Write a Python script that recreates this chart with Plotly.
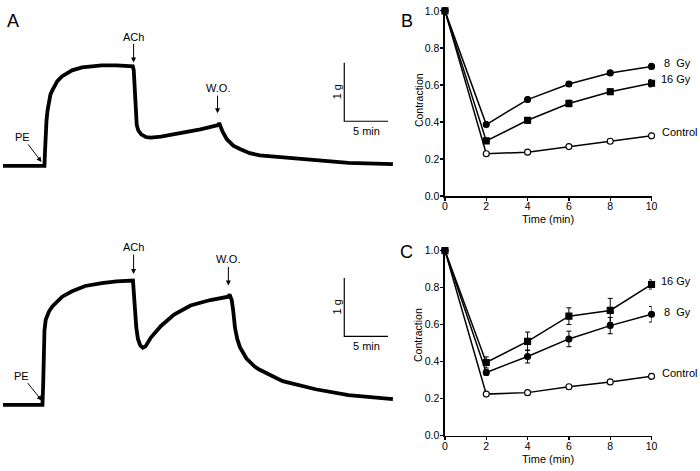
import plotly.graph_objects as go

W, H = 700, 471

# ---------------- Panel A: tension recordings (time in min, tension in g above baseline)
top_t = [0, 4.74, 4.80, 4.85, 4.97, 5.08, 5.25, 5.42, 5.64, 6.21, 6.77, 7.34, 7.90, 9.03, 10.16,
         11.29, 12.98, 14.84,
         14.95, 15.07, 15.18, 15.29, 15.46, 15.80, 16.37, 16.93, 18.06, 20.32, 22.57, 24.60,
         24.72, 24.89, 25.11, 25.59, 26.33, 27.09, 28.22, 29.35, 31.94, 35.74, 39.50, 44.58]
top_g = [0, 0, 0.233, 0.483, 0.767, 0.933, 1.117, 1.217, 1.292, 1.45, 1.533, 1.592, 1.633, 1.683, 1.705,
         1.717, 1.717, 1.70,
         1.633, 1.233, 0.867, 0.70, 0.608, 0.538, 0.492, 0.483, 0.50, 0.558, 0.625, 0.695,
         0.733, 0.667, 0.583, 0.455, 0.345, 0.288, 0.217, 0.178, 0.142, 0.088, 0.05, 0.028]

bot_t = [0, 4.51, 4.59, 4.66, 4.74, 4.89, 5.27, 5.64, 6.21, 6.77, 7.90, 9.40, 11.29, 12.98, 14.86,
         15.05, 15.24, 15.43, 15.69, 15.99, 16.29, 16.93, 18.06, 19.56, 21.44, 23.70, 25.77, 25.90,
         26.15, 26.33, 26.52, 26.78, 27.09, 27.84, 28.78, 29.35, 30.10, 31.98, 35.74, 39.50, 44.58]
bot_g = [0, 0, 0.322, 0.822, 1.272, 1.46, 1.60, 1.683, 1.777, 1.85, 1.943, 2.033, 2.083, 2.113, 2.127,
         1.71, 1.322, 1.127, 1.017, 0.977, 1.0, 1.155, 1.35, 1.543, 1.70, 1.793, 1.85, 1.888,
         1.793, 1.60, 1.322, 1.127, 0.988, 0.793, 0.655, 0.60, 0.543, 0.405, 0.267, 0.167, 0.10]

# events: label, time (min), tension (g) at arrow tip, arrow offset px (ax, ay)
top_events = [("PE", 4.40, 0.067, -19, -25), ("ACh", 14.93, 1.767, 0, -26), ("W.O.", 24.53, 0.90, 0, -25)]
bot_events = [("PE", 4.44, 0.072, -20, -25), ("ACh", 14.93, 2.238, 0, -27), ("W.O.", 25.77, 2.043, 0, -26)]

scale_min = 5      # min
scale_g = 1        # g
top_bar_origin = (39.02, 0.762)
bot_bar_origin = (39.02, 1.172)

# ---------------- Panels B and C: relative contraction
time_pts = [0, 2, 4, 6, 8, 10]
B_8gy = [1.0, 0.386, 0.521, 0.605, 0.665, 0.700]
B_8gy_err = [0, 0.010, 0.012, 0.012, 0.013, 0.013]
B_16gy = [1.0, 0.298, 0.409, 0.500, 0.563, 0.609]
B_16gy_err = [0, 0.010, 0.015, 0.018, 0.015, 0.020]
B_ctrl = [1.0, 0.228, 0.237, 0.267, 0.296, 0.325]
B_ctrl_err = [0, 0.005, 0.008, 0.010, 0.012, 0.014]

C_16gy = [1.0, 0.396, 0.510, 0.646, 0.677, 0.817]
C_16gy_err = [0, 0.030, 0.050, 0.045, 0.065, 0.025]
C_8gy = [1.0, 0.342, 0.428, 0.523, 0.595, 0.656]
C_8gy_err = [0, 0.015, 0.035, 0.042, 0.044, 0.042]
C_ctrl = [1.0, 0.225, 0.233, 0.265, 0.291, 0.321]
C_ctrl_err = [0, 0.005, 0.008, 0.010, 0.012, 0.014]

y_ticks = [0.0, 0.2, 0.4, 0.6, 0.8, 1.0]
x_ticks = [0, 2, 4, 6, 8, 10]

FONT = "Liberation Sans, Arial, sans-serif"
BLACK = "#000000"

def px_x(p):
    return p / W

def px_y(p):
    return 1 - p / H

fig = go.Figure()

# recordings
for t, g, xa, ya in [(top_t, top_g, "x", "y"), (bot_t, bot_g, "x2", "y2")]:
    fig.add_trace(go.Scatter(x=t, y=g, xaxis=xa, yaxis=ya, mode="lines",
                             line=dict(color=BLACK, width=3.8),
                             showlegend=False, hoverinfo="skip"))

# scale bars
for (ox, oy), xa, ya in [(top_bar_origin, "x", "y"), (bot_bar_origin, "x2", "y2")]:
    fig.add_trace(go.Scatter(x=[ox, ox, ox + scale_min], y=[oy + scale_g, oy, oy],
                             xaxis=xa, yaxis=ya, mode="lines",
                             line=dict(color=BLACK, width=1.2),
                             showlegend=False, hoverinfo="skip"))
    fig.add_annotation(x=ox, y=oy + scale_g / 2, xref=xa, yref=ya, text="1 g",
                       textangle=-90, showarrow=False, xshift=-7,
                       xanchor="center", yanchor="middle",
                       font=dict(family=FONT, size=11, color=BLACK))
    fig.add_annotation(x=ox + scale_min / 2, y=oy, xref=xa, yref=ya, text="5 min",
                       showarrow=False, yshift=-10, xanchor="center", yanchor="middle",
                       font=dict(family=FONT, size=11, color=BLACK))

for events, xa, ya in [(top_events, "x", "y"), (bot_events, "x2", "y2")]:
    for lab, ex, ey, axo, ayo in events:
        fig.add_annotation(x=ex, y=ey, xref=xa, yref=ya, text=lab, showarrow=True,
                           ax=axo, ay=ayo, arrowhead=2, arrowsize=1, arrowwidth=1,
                           arrowcolor=BLACK, standoff=0,
                           font=dict(family=FONT, size=11, color=BLACK))

# B and C curves
def add_series(xa, ya, vals, errs, symbol, fill):
    fig.add_trace(go.Scatter(
        x=time_pts, y=vals, xaxis=xa, yaxis=ya, mode="lines+markers",
        line=dict(color=BLACK, width=1.5),
        marker=dict(symbol=symbol, size=6, color=fill, line=dict(color=BLACK, width=1.1)),
        error_y=dict(type="data", array=errs, visible=True, color=BLACK, thickness=1, width=2.5),
        cliponaxis=False, showlegend=False, hoverinfo="skip"))

add_series("x3", "y3", B_ctrl, B_ctrl_err, "circle", "white")
add_series("x3", "y3", B_16gy, B_16gy_err, "square", BLACK)
add_series("x3", "y3", B_8gy, B_8gy_err, "circle", BLACK)
add_series("x4", "y4", C_ctrl, C_ctrl_err, "circle", "white")
add_series("x4", "y4", C_8gy, C_8gy_err, "circle", BLACK)
add_series("x4", "y4", C_16gy, C_16gy_err, "square", BLACK)

series_labels = [("x3", "y3", "8&nbsp;&nbsp;Gy", B_8gy[-1], 3, 10), ("x3", "y3", "16 Gy", B_16gy[-1], 4, 7),
                 ("x3", "y3", "Control", B_ctrl[-1], 4, 8),
                 ("x4", "y4", "16 Gy", C_16gy[-1], 3, 7), ("x4", "y4", "8&nbsp;&nbsp;Gy", C_8gy[-1], 2, 10),
                 ("x4", "y4", "Control", C_ctrl[-1], 3, 8)]
for xa, ya, txt, yv, ys, xs in series_labels:
    fig.add_annotation(x=10, y=yv, xref=xa, yref=ya, text=txt, showarrow=False,
                       xanchor="left", yanchor="middle", xshift=xs, yshift=ys,
                       font=dict(family=FONT, size=11, color=BLACK))

# panel letters
for lab, xp, yp in [("A", 10, 15), ("B", 409, 15.5), ("C", 409, 252)]:
    fig.add_annotation(x=px_x(xp), y=px_y(yp), xref="paper", yref="paper", text=lab,
                       xanchor="center", yanchor="middle",
                       showarrow=False, font=dict(family=FONT, size=18, color=BLACK))

# axis titles
for yp in [97, 338]:
    fig.add_annotation(x=px_x(421), y=px_y(yp), xref="paper", yref="paper", text="Contraction",
                       textangle=-90, showarrow=False, xanchor="center", yanchor="middle",
                       font=dict(family=FONT, size=10.5, color=BLACK))
for yp in [219, 465]:
    fig.add_annotation(x=px_x(552), y=px_y(yp), xref="paper", yref="paper", text="Time (min)",
                       showarrow=False, xanchor="center", yanchor="middle",
                       font=dict(family=FONT, size=11, color=BLACK))

hidden = dict(visible=False, fixedrange=True, showgrid=False, zeroline=False)
x_rec_range = [0, 400 / 8.86]

def data_x(domain):
    return dict(domain=domain, range=[0, 10], tickmode="array", tickvals=x_ticks,
                ticks="outside", ticklen=3, tickwidth=1.2, tickcolor=BLACK,
                ticklabelstandoff=-3,
                showline=True, linecolor=BLACK, linewidth=1.5, showgrid=False, zeroline=False,
                tickfont=dict(family=FONT, size=10.5, color=BLACK), fixedrange=True)

def data_y(domain, xa):
    return dict(domain=domain, range=[0, 1], tickmode="array", tickvals=y_ticks,
                ticktext=[f"{v:.1f}" for v in y_ticks],
                ticks="outside", ticklen=3, tickwidth=1.2, tickcolor=BLACK,
                ticklabelstandoff=-1,
                showline=True, linecolor=BLACK, linewidth=1.5, showgrid=False, zeroline=False,
                tickfont=dict(family=FONT, size=10.5, color=BLACK), anchor=xa, fixedrange=True)

fig.update_layout(
    width=W, height=H, margin=dict(l=0, r=0, t=0, b=0, pad=0),
    paper_bgcolor="white", plot_bgcolor="rgba(0,0,0,0)",
    xaxis=dict(domain=[0, px_x(400)], range=x_rec_range, anchor="y", **hidden),
    yaxis=dict(domain=[px_y(200), 1], range=[-0.6, 164 / 60], anchor="x", **hidden),
    xaxis2=dict(domain=[0, px_x(400)], range=x_rec_range, anchor="y2", **hidden),
    yaxis2=dict(domain=[px_y(440), px_y(240)], range=[(409.3 - 440) / 60, (409.3 - 240) / 60],
                anchor="x2", **hidden),
    xaxis3=dict(anchor="y3", **data_x([px_x(447.7), px_x(657)])),
    yaxis3=data_y([px_y(195), px_y(5)], "x3"),
    xaxis4=dict(anchor="y4", **data_x([px_x(447.7), px_x(657)])),
    yaxis4=data_y([px_y(441), px_y(251)], "x4"),
)

fig.write_html("out.html", config={"displayModeBar": False, "staticPlot": True},
               post_script="document.body.style.margin='0px';document.body.style.overflow='hidden';")
